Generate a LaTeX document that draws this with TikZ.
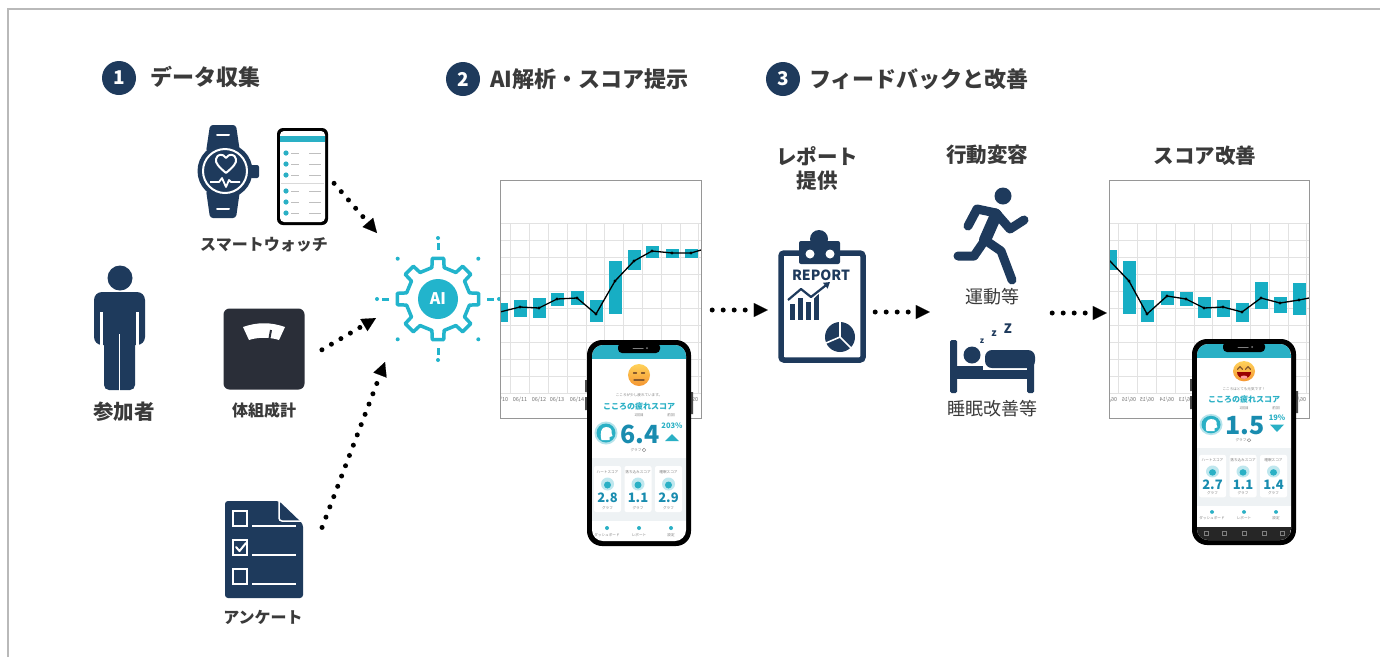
\documentclass[tikz,border=0pt]{standalone}
\usepackage{fontspec}
\setmainfont{Noto Sans CJK JP}
\usepackage{graphicx}
\usetikzlibrary{arrows.meta}

\definecolor{navy}{RGB}{30,58,92}
\definecolor{scaledark}{RGB}{42,46,56}
\definecolor{txtgray}{RGB}{58,58,58}
\definecolor{framegray}{RGB}{185,185,185}
\definecolor{chartgray}{RGB}{150,150,150}
\definecolor{gridgray}{RGB}{226,226,226}
\definecolor{barteal}{RGB}{23,174,196}
\definecolor{aiteal}{RGB}{34,180,204}
\definecolor{appteal}{RGB}{42,176,197}
\definecolor{scoreteal}{RGB}{25,140,175}
\definecolor{cardgray}{RGB}{238,242,244}
\definecolor{emojiorange}{RGB}{245,150,50}
\definecolor{emojiyellow}{RGB}{255,210,90}

\tikzset{
  stepno/.style={circle, fill=navy, text=white, minimum size=34pt, inner sep=0pt,
    font=\bfseries\fontsize{19}{19}\selectfont},
  steptitle/.style={anchor=west, inner sep=0pt, text=txtgray, font=\bfseries\fontsize{22}{24}\selectfont},
  biglabel/.style={inner sep=0pt, text=txtgray, font=\bfseries\fontsize{20.5}{23}\selectfont},
  smalllabel/.style={inner sep=0pt, text=txtgray, font=\bfseries\fontsize{16}{18}\selectfont},
  plainlabel/.style={inner sep=0pt, text=txtgray, font=\fontsize{18}{20}\selectfont},
  dotarrow/.style={line width=5pt, line cap=round, dash pattern=on 0pt off 11pt,
    -{Triangle[length=14pt,width=14pt,line width=0.1pt]}},
  tinytext/.style={font=\fontsize{3.6}{4}\selectfont, text=gray, inner sep=0pt},
  datetext/.style={font=\fontsize{5.5}{6}\selectfont, text=black!55, inner sep=0pt},
}

\begin{document}
\begin{tikzpicture}[x=1pt, y=-1pt]
  \useasboundingbox (0,0) rectangle (1380,657);
  \fill[white] (0,0) rectangle (1380,657);
  \draw[framegray, line width=1.5pt] (8,657) -- (8,9) -- (1380,9);

  % the score app phone: position, content yscale, face, message, score, change, trend, cards
  \def\appphone#1#2#3#4#5#6#7#8{%
    \begin{scope}[shift={#1}]
      \fill[black!70] (-2,40) rectangle (1,52) (-2,57) rectangle (1,70) (103,52) rectangle (106,74);
      \fill[black, rounded corners=15pt] (0,0) rectangle (104,206);
      \fill[white, rounded corners=11pt] (5,5) rectangle (99,201);
      \begin{scope}
        \clip[rounded corners=11pt] (5,5) rectangle (99,201);
        \fill[appteal] (5,5) rectangle (99,19);
        \begin{scope}[yscale=#2]
          \fill[cardgray] (5,118) rectangle (99,181);
          #3
          \node[tinytext] at (52,55) {#4};
          \node[font=\bfseries\fontsize{8}{8}\selectfont, text=appteal, inner sep=0pt] at (52,66) {こころの疲れスコア};
          \node[tinytext] at (52,75) {1回目};
          \node[tinytext] at (84,75) {前回};
          % head badge
          \fill[appteal!35] (19,93) circle (11.5);
          \fill[appteal] (19,93) circle (9.5);
          \fill[white] (14.5,100) .. controls (12.5,92) and (14.5,87) .. (19,87)
            .. controls (23.5,87) and (25.5,90) .. (24.5,93) -- (25.5,96) -- (22.5,97) -- (22.5,100) -- cycle;
          \node[font=\bfseries\fontsize{25}{25}\selectfont, text=scoreteal, inner sep=0pt] at (53,94) {#5};
          \node[font=\bfseries\fontsize{7.5}{8}\selectfont, text=appteal, inner sep=0pt] at (85,86) {#6};
          #7
          \node[tinytext] at (49,110) {グラフ};
          \draw[gray, line width=0.4pt] (57,110) circle (1.8);
          % score cards
          \foreach \t/\v [count=\i] in {#8} {
            \begin{scope}[xshift={(\i-1)*30.5}]
              \fill[white, rounded corners=2pt] (7,126) rectangle (34,172);
              \node[tinytext] at (20.5,132) {\t};
              \fill[appteal!30] (20.5,144) circle (6.5);
              \fill[appteal] (20.5,145) circle (3.5);
              \node[font=\bfseries\fontsize{13}{13}\selectfont, text=scoreteal, inner sep=0pt] at (20.5,158) {\v};
              \node[tinytext] at (20.5,168) {グラフ};
            \end{scope}
          }
          % tab bar
          \foreach \x/\l in {20/ダッシュボード,52/レポート,84/設定} {
            \fill[appteal] (\x,188) circle (2);
            \node[tinytext] at (\x,195) {\l};
          }
        \end{scope}
      \end{scope}
      % notch
      \fill[black, rounded corners=4pt] (31,3) rectangle (73,13);
      \draw[gray, line width=1pt, line cap=round] (46,8) -- (56,8);
      \fill[gray] (60,8) circle (1);
    \end{scope}}
  \def\calmface{%
    \shade[top color=emojiyellow, bottom color=emojiorange] (52,35) circle (11);
    \draw[brown!70!black, line width=1.3pt, line cap=round]
      (46.5,33) -- (49.5,33) (54.5,33) -- (57.5,33) (47,40) -- (57,40);}
  \def\happyface{%
    \shade[top color=emojiyellow, bottom color=emojiorange] (52,35) circle (11);
    \draw[brown!70!black, line width=1.2pt, line cap=round, line join=round]
      (45.5,33) -- (48,30) -- (50.5,33) (53.5,33) -- (56,30) -- (58.5,33);
    \fill[red!60!black] (45,36) -- (59,36) arc[start angle=0, end angle=180, radius=7] -- cycle;
    \fill[pink!80!red] (52,41.5) ellipse (3.5 and 1.8);}
  \def\trendup{\fill[appteal] (85,94) -- (92,101) -- (78,101) -- cycle;}
  \def\trenddown{\fill[appteal] (78,93) -- (92,93) -- (85,101) -- cycle;}

  % headings
  \node[stepno] (s1) at (119,78) {1};
  \node[steptitle] (s1t) at (150,77) {データ収集};
  \node[stepno] (s2) at (463,79) {2};
  \node[steptitle] (s2t) at (490,79) {AI解析・スコア提示};
  \node[stepno] (s3) at (783,79) {3};
  \node[steptitle] (s3t) at (809,79) {フィードバックと改善};

  % participant
  \node[minimum width=50pt, minimum height=125pt] (person) at (119,328) {};
  \begin{scope}[navy]
    \fill (120,278) circle (12.5);
    \fill[rounded corners=8pt] (94,292) rectangle (145,345);
    \draw[white, line width=2.2pt] (101.5,312) -- (101.5,346) (137.5,312) -- (137.5,346);
    \fill[rounded corners=5pt] (104,330) rectangle (135,390);
    \draw[white, line width=1.8pt] (119.5,334) -- (119.5,392);
  \end{scope}
  \node[biglabel] (personlbl) at (124,412) {参加者};

  % smartwatch
  \node[minimum width=66pt, minimum height=94pt] (watch) at (226,171) {};
  \begin{scope}[navy]
    \fill[rounded corners=3pt] (210,125) -- (236,125) -- (240,152) -- (206,152) -- cycle;
    \fill[rounded corners=3pt] (206,190) -- (240,190) -- (236,218) -- (210,218) -- cycle;
    \fill[rounded corners=2pt] (250,165) rectangle (259,178);
    \fill (225,171) circle (27.5);
    \draw[white, line width=2pt] (225,171) circle (22);
    \draw[white, line width=2pt, line cap=round] (217,135) -- (229,135) (217,209) -- (229,209);
    \draw[white, line width=2pt, line join=round] (226,173) .. controls (219,167) and (215,163) .. (216,159)
      .. controls (217,154) and (223,153) .. (226,158) .. controls (229,153) and (235,154) .. (236,159)
      .. controls (237,163) and (233,167) .. (226,173);
    \draw[white, line width=1.8pt, line join=round] (210,182) -- (219,182) -- (222,178) -- (226,187)
      -- (229,180) -- (231,182) -- (240,182);
  \end{scope}
  % companion phone
  \node[minimum width=51pt, minimum height=97pt] (wphone) at (302.5,176.5) {};
  \fill[black, rounded corners=6pt] (277,128) rectangle (328,225);
  \fill[white, rounded corners=4pt] (280,131) rectangle (325,222);
  \fill[appteal] (280,136) rectangle (325,142);
  \foreach \y in {153,164,175,191,202,213} {
    \fill[appteal] (286,\y) circle (2.6);
    \draw[gray!50, line width=0.6pt] (291,\y) -- (299,\y) (309,\y) -- (321,\y);
  }
  \draw[gray!30, line width=0.5pt] (281,183) -- (324,183);
  \node[smalllabel] (watchlbl) at (264,245) {スマートウォッチ};

  % body composition scale
  \node[fill=scaledark, rounded corners=6pt, minimum width=81pt, minimum height=81pt] (scale) at (264,349) {};
  \fill[white] (243,327) .. controls (257,322) and (271,322) .. (285,327) -- (279,340)
    .. controls (270,337) and (258,337) .. (249,340) -- cycle;
  \draw[scaledark, line width=2pt] (269,341) -- (271,330);
  \node[smalllabel] (scalelbl) at (264,410) {体組成計};

  % questionnaire
  \node[minimum width=78pt, minimum height=97pt] (survey) at (264,549.5) {};
  \fill[navy, rounded corners=3pt] (225,501) -- (279,501) -- (303,524) -- (303,598) -- (225,598) -- cycle;
  \draw[white, line width=1.5pt, rounded corners=3pt] (279,501) -- (279,521) -- (304,521);
  \begin{scope}[white, line width=2pt]
    \foreach \y in {511,540,569} {
      \draw (233,\y) rectangle (247,\y+15);
      \draw (252,\y+15) -- (296,\y+15);
    }
    \draw[line cap=round, line join=round] (236,547) -- (239.5,551) -- (246,543);
  \end{scope}
  \node[smalllabel] (surveylbl) at (263,617) {アンケート};

  % AI gear
  \node[circle, minimum size=82pt] (ai) at (438,299) {};
  \begin{scope}[shift={(438,299)}]
    \draw[aiteal, line width=3.5pt, fill=white, line join=round] (-11:32)
      \foreach \a in {0,45,...,315} { -- (\a-11:32) -- (\a-8:41) -- (\a+8:41) -- (\a+11:32) } -- cycle;
    \fill[aiteal] (0,0) circle (20);
    \foreach \a in {0,90,180,270} {
      \draw[aiteal, line width=3pt] (\a:49) -- (\a:56);
      \fill[aiteal] (\a:61) circle (2);
    }
    \foreach \a in {45,135,225,315} \fill[aiteal] (\a:57) circle (2);
  \end{scope}
  \node[text=white, font=\bfseries\fontsize{16}{16}\selectfont, inner sep=0pt] (ailbl) at (438,299) {AI};

  % data flows into the AI
  \coordinate (aiin1) at (377,233);
  \coordinate (aiin2) at (376,318);
  \coordinate (aiin3) at (385,362);
  \draw[dotarrow, shorten <=9pt] (wphone.east) -- (aiin1);
  \draw[dotarrow, shorten <=20pt] (scale.-15) -- (aiin2);
  \draw[dotarrow, shorten <=53pt] (survey.-35) -- (aiin3);

  % score chart before
  \node[minimum width=201pt, minimum height=238pt] (chart1) at (600.5,299) {};
  \begin{scope}
    \clip (500,180) rectangle (701,418);
    \foreach \y in {223,240,...,393} \draw[gridgray] (500,\y) -- (701,\y);
    \foreach \i in {0,...,10} \draw[gridgray] (510.5+18.8*\i,223) -- ++(0,170);
    \foreach \c/\t/\b in {501/303/322,520/300/317,539/298/318,557/293/306,577/291/305,596/300/322,
                          615/261/314,634/250/270,652/246/258,672/249/258,691/249/258}
      \fill[barteal] (\c-6.5,\t) rectangle (\c+6.5,\b);
    \draw[black, line width=1.3pt, line join=round] plot coordinates {(500,312) (520,307) (539,308) (557,299)
      (577,298) (596,314) (615,281) (634,261) (652,251) (672,253) (691,253) (701,250)};
    \foreach \c/\p in {520/307,539/308,557/299,577/298,596/314,615/281,634/261,652/251,672/253,691/253}
      \fill (\c,\p) circle (1.7);
    \foreach \c/\d in {501/10,520/11,539/12,557/13,577/14,691/20}
      \node[datetext] at (\c,400) {06/\d};
  \end{scope}
  \draw[chartgray, line width=1pt] (500,180) rectangle (701,418);
  \appphone{(587,340)}{1}{\calmface}{こころが少し疲れています。}{6.4}{203\%}{\trendup}
    {ハートスコア/2.8,落ち込みスコア/1.1,睡眠スコア/2.9}

  % report
  \node[biglabel, align=center] (reportlbl) at (817,168) {レポート\\[1pt]提供};
  \node[minimum width=90pt, minimum height=134pt] (report) at (822,296) {};
  \begin{scope}[navy]
    \draw[line width=5.5pt, rounded corners=3pt] (781,253) rectangle (863,360);
    \fill (819,239) circle (9);
    \fill[rounded corners=2pt] (799,241) rectangle (840,264);
    \fill[white] (810,254) circle (4.5) (830,254) circle (4.5);
    \node[font=\bfseries\fontsize{14}{14}\selectfont, text=navy, inner sep=0pt] at (821,275) {REPORT};
    \foreach \x/\t in {790/304,798/298,806/302,814/294} \fill (\x,\t) rectangle (\x+4.5,320);
    \draw[white, line width=3pt, line join=round] (788,302) -- (801,291) -- (811,299) -- (827,284);
    \draw[line width=2.2pt, line join=round, -{Triangle[length=6pt,width=7pt]}] (788,300) -- (801,289) -- (811,297) -- (830,282);
    \fill (840,337) circle (15);
    \draw[white, line width=1.6pt] (840,337) -- (840,322) (840,337) -- (826,343) (840,337) -- (851,348);
  \end{scope}

  % behaviour change
  \node[biglabel] (behavelbl) at (987,155) {行動変容};
  \node[minimum width=90pt, minimum height=214pt] (behave) at (990,287) {};
  \begin{scope}[navy, line width=9pt, line cap=round, line join=round]
    \fill (1003,196) circle (8.5);
    \draw[line width=12pt] (996,215) -- (985,240);
    \draw (996,213) -- (977,209) -- (968,226);
    \draw (996,213) -- (1010,229) -- (1024,220);
    \draw (985,240) -- (974,256) -- (958,256);
    \draw (985,240) -- (1001,251) -- (1012,280);
  \end{scope}
  \node[plainlabel] (runlbl) at (992,297) {運動等};
  \begin{scope}[navy]
    \fill[rounded corners=1.5pt] (950,340) rectangle (957,393);
    \fill (957,370) rectangle (1034,379);
    \fill[rounded corners=1.5pt] (1027,360) rectangle (1034,393);
    \fill (972,355) circle (8.5);
    \fill (957,366) rectangle (983,370);
    \fill[rounded corners=7pt] (985,368) rectangle (1035,350);
    \node[font=\bfseries\fontsize{8}{8}\selectfont, text=navy, inner sep=0pt] at (982,341) {z};
    \node[font=\bfseries\fontsize{10}{10}\selectfont, text=navy, inner sep=0pt] at (994,334) {z};
    \node[font=\bfseries\fontsize{13}{13}\selectfont, text=navy, inner sep=0pt] at (1008,329) {Z};
  \end{scope}
  \node[plainlabel] (sleeplbl) at (992,409) {睡眠改善等};

  % score chart after
  \node[biglabel] (improvelbl) at (1205,156) {スコア改善};
  \node[minimum width=200pt, minimum height=238pt] (chart2) at (1209,299) {};
  \begin{scope}
    \clip (1109,180) rectangle (1309,418);
    \foreach \y in {223,240,...,393} \draw[gridgray] (1109,\y) -- (1309,\y);
    \foreach \i in {0,...,10} \draw[gridgray] (1118.5+18.8*\i,223) -- ++(0,170);
    \foreach \c/\t/\b in {1110/250/270,1129/261/314,1147/300/322,1167/291/305,1186/292/306,1204/297/318,
                          1223/300/317,1242/303/322,1261/282/309,1280/297/313,1299/283/315}
      \fill[barteal] (\c-6.5,\t) rectangle (\c+6.5,\b);
    \draw[black, line width=1.3pt, line join=round] plot coordinates {(1109,260) (1129,281) (1147,314) (1167,296)
      (1186,299) (1204,308) (1223,307) (1242,312) (1261,298) (1280,303) (1299,300) (1309,298)};
    \foreach \c/\p in {1129/281,1147/314,1167/296,1186/299,1204/308,1223/307,1242/312,1261/298,1280/303,1299/300}
      \fill (\c,\p) circle (1.7);
    \foreach \c/\d in {1110/17,1129/16,1147/15,1167/14,1186/13,1299/07}
      \node[datetext] at (\c,400) {\reflectbox{06/\d}};
  \end{scope}
  \draw[chartgray, line width=1pt] (1109,180) rectangle (1309,418);
  \appphone{(1192,339)}{0.92}{\happyface}{こころはとても元気です！}{1.5}{19\%}{\trenddown}
    {ハートスコア/2.7,落ち込みスコア/1.1,睡眠スコア/1.4}
  \begin{scope}[shift={(1192,339)}]
    \clip[rounded corners=11pt] (5,5) rectangle (99,201);
    \fill[black!85] (5,188) rectangle (99,201);
    \foreach \x in {14,32,52,72,90} \draw[gray, line width=0.5pt] (\x-2,192.5) rectangle (\x+2,196.5);
  \end{scope}

  % feedback flow
  \coordinate (rowa) at (0,310);
  \coordinate (rowb) at (0,312);
  \coordinate (rowc) at (0,313);
  \draw[dotarrow, shorten <=11pt, shorten >=9pt] (chart1.east |- rowa) -- (report.west |- rowa);
  \draw[dotarrow, shorten <=8pt, shorten >=15pt] (report.east |- rowb) -- (behave.west |- rowb);
  \draw[dotarrow, shorten <=17pt, shorten >=2pt] (behave.east |- rowc) -- (chart2.west |- rowc);
\end{tikzpicture}
\end{document}
